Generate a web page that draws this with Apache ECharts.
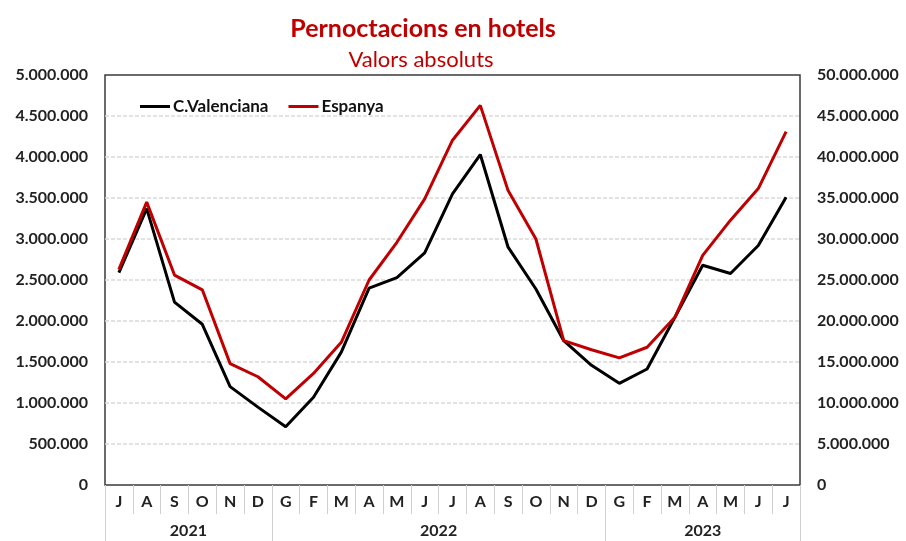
<!DOCTYPE html>
<html>
<head>
<meta charset="utf-8">
<script src="https://cdn.jsdelivr.net/npm/echarts@6/dist/echarts.min.js"></script>
<style>
  html, body { margin: 0; padding: 0; background: #fff; }
  #chartLine { width: 906px; height: 541px; }
</style>
</head>
<body>
<div id="chartLine"></div>
<script>
const months = ['J','A','S','O','N','D','G','F','M','A','M','J','J','A','S','O','N','D','G','F','M','A','M','J','J'];
const years = ['2021', '2022', '2023'];
const yearCenters = [3, 12, 21.5];
const yearBounds = [0, 6, 18, 25];

const valenciana = [2590000, 3370000, 2230000, 1960000, 1200000, 950000, 710000, 1070000, 1620000, 2400000,
  2530000, 2830000, 3550000, 4030000, 2900000, 2390000, 1760000, 1460000, 1240000, 1415000,
  2045000, 2680000, 2580000, 2920000, 3510000];
const espanya = [26300000, 34500000, 25600000, 23800000, 14800000, 13200000, 10500000, 13600000, 17400000, 25000000,
  29600000, 34900000, 42050000, 46300000, 35900000, 30000000, 17600000, 16500000, 15500000, 16800000,
  20450000, 28000000, 32300000, 36150000, 43100000];

const FONT = 'Lato';

function miles(v) {
  return String(Math.round(v)).replace(/\B(?=(\d{3})+(?!\d))/g, '.');
}

let myChart = echarts.init(document.getElementById('chartLine'));
myChart.setOption({
  animation: false,
  title: [
    {
      text: 'Pernoctacions en hotels',
      left: 418, top: 11, textAlign: 'center',
      textStyle: { color: '#c00000', fontFamily: FONT, fontWeight: 'bold', fontSize: 25 }
    },
    {
      text: 'Valors absoluts',
      left: 416, top: 44, textAlign: 'center',
      textStyle: { color: '#c00000', fontFamily: FONT, fontWeight: 'normal', fontSize: 22 }
    }
  ],
  legend: {
    data: ['C.Valenciana', 'Espanya'],
    left: 135, top: 93,
    icon: 'rect', itemWidth: 30, itemHeight: 3, itemGap: 20,
    textStyle: { fontFamily: FONT, fontWeight: 'bold', fontSize: 17, color: '#111', padding: [0, 0, 0, -2] }
  },
  grid: {
    left: 105, right: 106, top: 75, bottom: 56,
    show: true, borderColor: '#3a3a3a', borderWidth: 1.5
  },
  xAxis: [
    {
      type: 'category',
      data: months,
      position: 'bottom',
      axisLine: { show: false },
      axisTick: { show: true, interval: 0, length: 29, lineStyle: { color: '#d0d0d0', width: 1 } },
      axisLabel: { interval: 0, margin: 9, fontFamily: FONT, fontWeight: 'bold', fontSize: 16, color: '#222' }
    },
    {
      type: 'value',
      min: 0, max: 25,
      position: 'bottom',
      axisLine: { show: false },
      splitLine: { show: false },
      axisTick: { show: true, customValues: yearBounds, length: 56, lineStyle: { color: '#d0d0d0', width: 1 } },
      axisLabel: {
        customValues: yearCenters, margin: 38,
        fontFamily: FONT, fontWeight: 'bold', fontSize: 16, color: '#222',
        formatter: function (v) { return years[yearCenters.indexOf(v)]; }
      }
    }
  ],
  yAxis: [
    {
      type: 'value', min: 0, max: 5000000, interval: 500000,
      axisLine: { show: false }, axisTick: { show: false },
      axisLabel: { margin: 17, fontFamily: FONT, fontWeight: 'bold', fontSize: 16, color: '#222', formatter: miles },
      splitLine: { show: true, showMinLine: false, showMaxLine: false, lineStyle: { color: '#d9d9d9', width: 1.5, type: [4, 2] } }
    },
    {
      type: 'value', min: 0, max: 50000000, interval: 5000000,
      position: 'right',
      axisLine: { show: false }, axisTick: { show: false },
      axisLabel: { margin: 17, fontFamily: FONT, fontWeight: 'bold', fontSize: 16, color: '#222', formatter: miles },
      splitLine: { show: false }
    }
  ],
  series: [
    {
      name: 'C.Valenciana', type: 'line', data: valenciana,
      xAxisIndex: 0, yAxisIndex: 0,
      symbol: 'none', color: '#000000',
      lineStyle: { color: '#000000', width: 3 }
    },
    {
      name: 'Espanya', type: 'line', data: espanya,
      xAxisIndex: 0, yAxisIndex: 1,
      symbol: 'none', color: '#c00000',
      lineStyle: { color: '#c00000', width: 3 }
    }
  ]
});
</script>
</body>
</html>
